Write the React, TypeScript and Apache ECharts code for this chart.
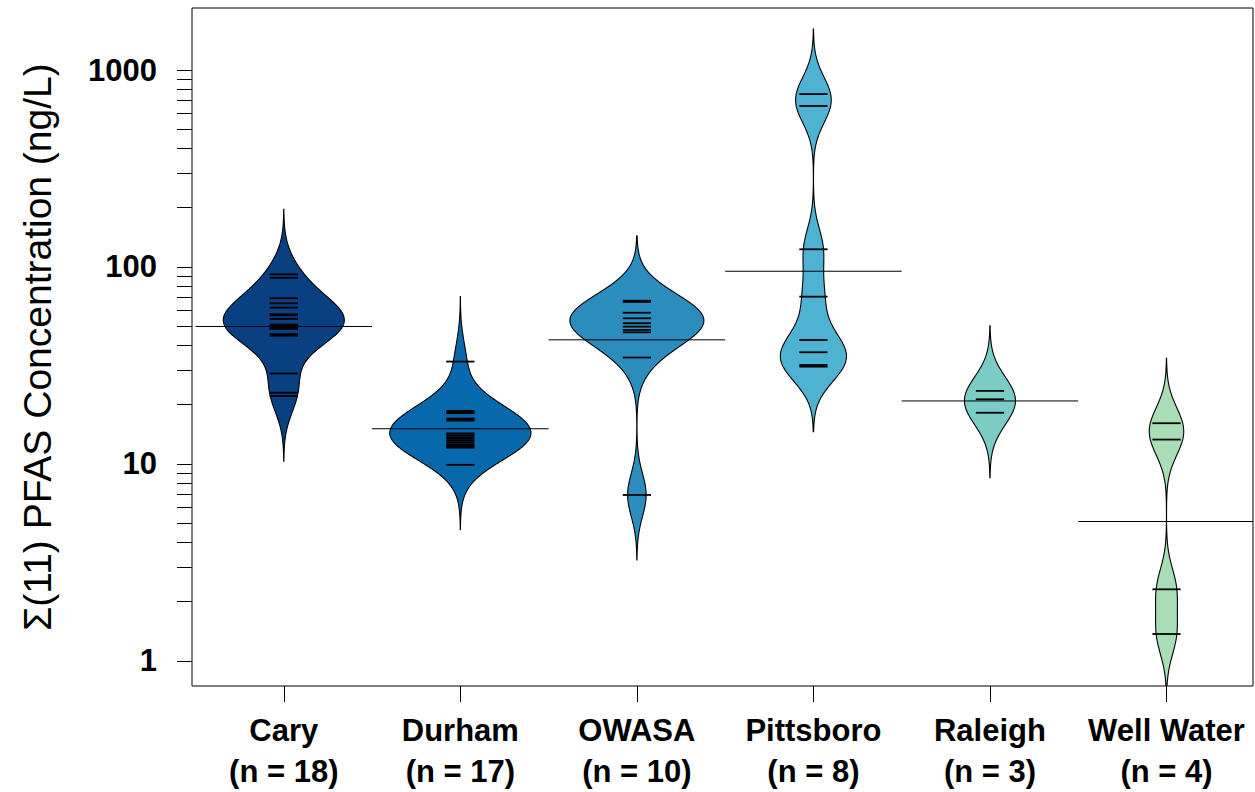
import React, { useEffect, useRef } from 'react';
import * as echarts from 'echarts';

// ---- data ----
const categories = ['Cary', 'Durham', 'OWASA', 'Pittsboro', 'Raleigh', 'Well Water'];
const cary = [91.8, 88.2, 69.4, 65.4, 62.2, 57.5, 56.8, 54.5, 51.0, 50.4, 49.5, 48.9, 48.5, 45.6, 44.8, 28.8, 23.0, 22.1];
const durham = [33.1, 18.6, 18.3, 18.1, 17.0, 16.8, 16.6, 14.3, 14.0, 13.7, 13.4, 13.1, 12.8, 12.5, 12.3, 12.1, 9.9];
const owasa = [67.4, 66.5, 58.6, 54.9, 51.8, 49.8, 47.9, 46.6, 34.7, 6.96];
const pittsboro = [755, 657, 123, 70.7, 42.6, 36.9, 31.8, 31.2];
const raleigh = [23.5, 21.3, 18.2];
const wellWater = [16.1, 13.3, 2.31, 1.37];
const groupValues = [cary, durham, owasa, pittsboro, raleigh, wellWater];
const colors = ['#084081', '#0868ac', '#2b8cbe', '#4eb3d3', '#7bccc4', '#a8ddb5'];
const yTickValues = [1, 2, 3, 4, 5, 6, 7, 8, 9, 10, 20, 30, 40, 50, 60, 70, 80, 90, 100, 200, 300, 400, 500, 600, 700, 800, 900, 1000];
const yLabelValues = [1, 10, 100, 1000];
const xPositions = [1, 2, 3, 4, 5, 6];

// beanplot parameters
const bandwidth = 0.11; // in log10 units, common to all beans
const cut = 3;
const grownage = 10;
const maxwidth = 0.8;
const beanLineLength = 0.16;
const meanLineHalf = 0.5;

// kernel density (gaussian) of log10 values, as beanplot does
const densities = groupValues.map((vals) => {
  const logs = vals.map((v) => Math.log10(v));
  const n = logs.length;
  const lo = Math.min(...logs) - cut * bandwidth;
  const hi = Math.max(...logs) + cut * bandwidth;
  const N = 512;
  const grow = Math.min(1, n / grownage);
  const t: number[] = [];
  const d: number[] = [];
  for (let k = 0; k < N; k++) {
    const x = lo + ((hi - lo) * k) / (N - 1);
    let s = 0;
    for (const l of logs) {
      const z = (x - l) / bandwidth;
      s += Math.exp(-0.5 * z * z);
    }
    t.push(x);
    d.push((s / (n * bandwidth * Math.sqrt(2 * Math.PI))) * grow);
  }
  return { t, d };
});
const maxDens = Math.max(...densities.map((g) => Math.max(...g.d)));
const halfScale = maxwidth / 2 / maxDens;
const geoMeans = groupValues.map((vals) =>
  Math.pow(10, vals.reduce((a, v) => a + Math.log10(v), 0) / vals.length)
);

export default function App() {
  const ref = useRef<HTMLDivElement>(null);
  useEffect(() => {
    if (!ref.current) return;
    const chart = echarts.init(ref.current, undefined, { renderer: 'svg' });
    const font = '"Liberation Sans", Arial, sans-serif';
    chart.setOption({
      animation: false,
      backgroundColor: '#ffffff',
      textStyle: { fontFamily: font },
      grid: {
        left: 192,
        right: 2,
        top: 8,
        bottom: 106,
        show: true,
        borderColor: '#000',
        borderWidth: 1,
        backgroundColor: 'transparent',
        containLabel: false,
        outerBoundsMode: 'none',
      },
      xAxis: {
        type: 'value',
        min: 0.48,
        max: 6.49,
        axisLine: { show: false },
        splitLine: { show: false },
        axisTick: {
          show: true,
          customValues: xPositions,
          length: 16,
          lineStyle: { color: '#000', width: 1 },
        },
        axisLabel: {
          show: true,
          customValues: xPositions,
          formatter: (v: number) => {
            const i = Math.round(v) - 1;
            return `${categories[i]}\n(n = ${groupValues[i].length})`;
          },
          fontSize: 31,
          fontWeight: 'bold',
          lineHeight: 41,
          color: '#000',
          margin: 24,
          fontFamily: font,
        },
      },
      yAxis: {
        type: 'log',
        logBase: 10,
        min: 0.746,
        max: 2065,
        axisLine: { show: false },
        splitLine: { show: false },
        minorTick: { show: false },
        axisTick: {
          show: true,
          customValues: yTickValues,
          length: 15,
          lineStyle: { color: '#000', width: 1 },
        },
        axisLabel: {
          show: true,
          customValues: yLabelValues,
          formatter: (v: number) => String(Math.round(v)),
          fontSize: 31,
          fontWeight: 'bold',
          color: '#000',
          margin: 35,
          fontFamily: font,
        },
        name: 'Σ(11) PFAS Concentration (ng/L)',
        nameLocation: 'middle',
        nameRotate: 90,
        nameGap: 135,
        nameTextStyle: { fontSize: 39, color: '#000', fontFamily: font },
      },
      series: [
        {
          type: 'custom',
          clip: true,
          data: xPositions.map((x, i) => [x, geoMeans[i]]),
          renderItem: (params: any, api: any) => {
            const gi = params.dataIndex;
            const xc = api.value(0);
            const dens = densities[gi];
            const right: number[][] = [];
            const left: number[][] = [];
            for (let k = 0; k < dens.t.length; k++) {
              const v = Math.pow(10, dens.t[k]);
              const hw = dens.d[k] * halfScale;
              right.push(api.coord([xc + hw, v]));
              left.push(api.coord([xc - hw, v]));
            }
            const pts = right.concat(left.reverse());
            const children: any[] = [
              {
                type: 'polygon',
                shape: { points: pts },
                style: { fill: colors[gi], stroke: '#000', lineWidth: 1.1 },
              },
            ];
            groupValues[gi].forEach((v) => {
              const a = api.coord([xc - beanLineLength / 2, v]);
              const b = api.coord([xc + beanLineLength / 2, v]);
              children.push({
                type: 'line',
                shape: { x1: a[0], y1: a[1], x2: b[0], y2: b[1] },
                style: { stroke: '#000', lineWidth: 1.8 },
              });
            });
            const m = api.value(1);
            const ma = api.coord([xc - meanLineHalf, m]);
            const mb = api.coord([xc + meanLineHalf, m]);
            children.push({
              type: 'line',
              shape: { x1: ma[0], y1: ma[1], x2: mb[0], y2: mb[1] },
              style: { stroke: '#000', lineWidth: 1 },
            });
            return { type: 'group', children };
          },
        },
      ],
    });
    return () => chart.dispose();
  }, []);
  return (
    <div
      ref={ref}
      style={{ position: 'absolute', left: 0, top: 0, width: 1255, height: 792, background: '#fff' }}
    />
  );
}
